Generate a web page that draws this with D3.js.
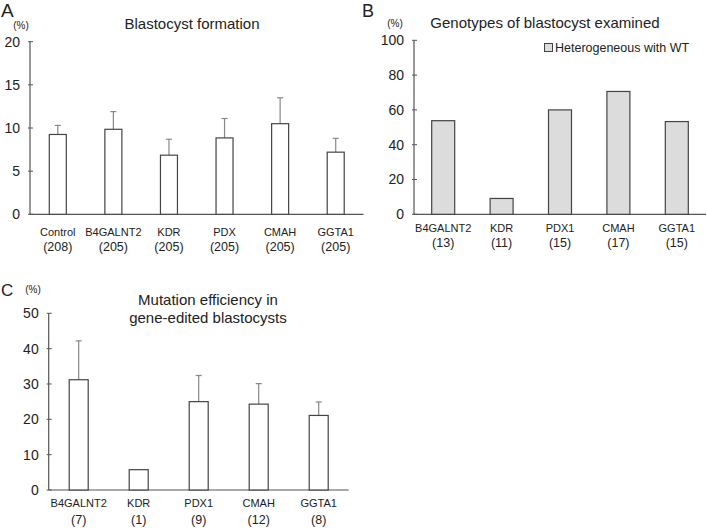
<!DOCTYPE html>
<html><head><meta charset="utf-8">
<script src="https://cdn.jsdelivr.net/npm/d3@7"></script>
<style>
body{margin:0;background:#fff;}
text{font-family:"Liberation Sans",Arial,Helvetica,sans-serif;fill:#222;}
</style></head>
<body><svg id="c" width="707" height="528"></svg>
<script>
// Panel A: Blastocyst formation
const catsA = ["Control","B4GALNT2","KDR","PDX","CMAH","GGTA1"];
const nA = ["(208)","(205)","(205)","(205)","(205)","(205)"];
const valA = [9.25, 9.85, 6.85, 8.85, 10.5, 7.2];
const errA = [10.3, 11.9, 8.7, 11.1, 13.5, 8.8];
const ticksA = [0,5,10,15,20];

// Panel B: Genotypes of blastocyst examined
const catsB = ["B4GALNT2","KDR","PDX1","CMAH","GGTA1"];
const nB = ["(13)","(11)","(15)","(17)","(15)"];
const valB = [53.8, 9.1, 60.0, 70.6, 53.3];
const ticksB = [0,20,40,60,80,100];

// Panel C: Mutation efficiency
const catsC = ["B4GALNT2","KDR","PDX1","CMAH","GGTA1"];
const nC = ["(7)","(1)","(9)","(12)","(8)"];
const valC = [31.2, 5.75, 25.0, 24.3, 21.1];
const errC = [42.2, null, 32.4, 30.1, 24.9];
const ticksC = [0,10,20,30,40,50];

const svg = d3.select("#c");

function panel(o){
  const g = svg.append("g");
  const x = d3.scalePoint().domain(o.cats).range([o.x0, o.x1]).padding(0.5);
  const y = d3.scaleLinear().domain([0, o.max]).range([o.y0, o.y1]);
  g.append("line").attr("x1",o.x0).attr("x2",o.x0).attr("y1",y(0)).attr("y2",y(o.max))
    .attr("stroke","#555").attr("stroke-width",1.2);
  g.append("line").attr("x1",o.x0).attr("x2",o.x1).attr("y1",y(0)).attr("y2",y(0))
    .attr("stroke","#555").attr("stroke-width",1.2);
  o.ticks.forEach(t=>{
    g.append("line").attr("x1",o.x0-2).attr("x2",o.x0+3).attr("y1",y(t)).attr("y2",y(t))
      .attr("stroke","#555").attr("stroke-width",1);
    g.append("text").attr("x",o.x0-10).attr("y",y(t)).attr("dy","0.35em")
      .attr("text-anchor","end").attr("font-size",14).text(t);
  });
  if(o.err){
    o.cats.forEach((c,i)=>{
      const e=o.err[i]; if(e==null) return;
      g.append("line").attr("x1",x(c)).attr("x2",x(c)).attr("y1",y(o.vals[i])).attr("y2",y(e))
        .attr("stroke","#888").attr("stroke-width",1.2);
      g.append("line").attr("x1",x(c)-3).attr("x2",x(c)+3).attr("y1",y(e)).attr("y2",y(e))
        .attr("stroke","#888").attr("stroke-width",1.2);
    });
  }
  g.selectAll("rect.b").data(o.vals).enter().append("rect")
    .attr("x",(d,i)=>x(o.cats[i])-o.bw/2).attr("width",o.bw)
    .attr("y",d=>y(d)).attr("height",d=>y(0)-y(d))
    .attr("fill",o.fill).attr("stroke","#444").attr("stroke-width",1.2);
  o.cats.forEach((c,i)=>{
    g.append("text").attr("x",x(c)).attr("y",o.l1).attr("text-anchor","middle")
      .attr("font-size",11).text(c);
    g.append("text").attr("x",x(c)).attr("y",o.l2).attr("text-anchor","middle")
      .attr("font-size",12.5).text(o.ns[i]);
  });
  return g;
}

panel({cats:catsA, vals:valA, err:errA, ns:nA, ticks:ticksA, max:20,
  x0:30, x1:363.5, y0:214.3, y1:41.7, bw:17, fill:"#fff", l1:236, l2:251});
panel({cats:catsB, vals:valB, err:null, ns:nB, ticks:ticksB, max:100,
  x0:414, x1:706, y0:214.3, y1:40.3, bw:23, fill:"#dcdcdc", l1:232, l2:247});
panel({cats:catsC, vals:valC, err:errC, ns:nC, ticks:ticksC, max:50,
  x0:48.7, x1:348.7, y0:490, y1:313.3, bw:19, fill:"#fff", l1:507, l2:524});

svg.append("text").attr("x",1).attr("y",17).attr("font-size",19).text("A");
svg.append("text").attr("x",362).attr("y",17).attr("font-size",18).text("B");
svg.append("text").attr("x",1).attr("y",296).attr("font-size",17).text("C");
svg.append("text").attr("x",21).attr("y",29).attr("text-anchor","middle").attr("font-size",10).text("(%)");
svg.append("text").attr("x",395).attr("y",27).attr("text-anchor","middle").attr("font-size",10).text("(%)");
svg.append("text").attr("x",33).attr("y",293).attr("text-anchor","middle").attr("font-size",10).text("(%)");
svg.append("text").attr("x",192).attr("y",29).attr("text-anchor","middle").attr("font-size",15).text("Blastocyst formation");
svg.append("text").attr("x",545).attr("y",28).attr("text-anchor","middle").attr("font-size",15).text("Genotypes of blastocyst examined");
svg.append("text").attr("x",208).attr("y",305).attr("text-anchor","middle").attr("font-size",15).text("Mutation efficiency in");
svg.append("text").attr("x",208).attr("y",323).attr("text-anchor","middle").attr("font-size",15).text("gene-edited blastocysts");
svg.append("rect").attr("x",544.5).attr("y",43.5).attr("width",8).attr("height",8)
  .attr("fill","#dcdcdc").attr("stroke","#444").attr("stroke-width",1);
svg.append("text").attr("x",555).attr("y",52).attr("font-size",12.5).text("Heterogeneous with WT");
</script></body></html>
